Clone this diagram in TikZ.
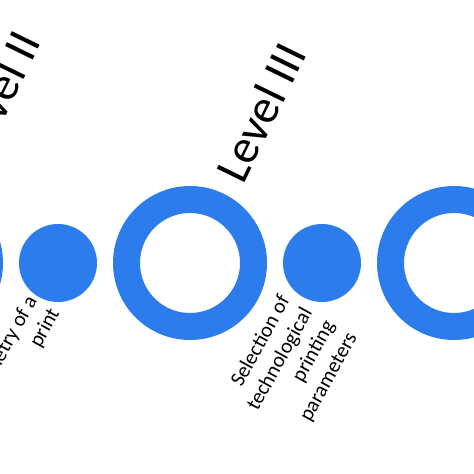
\documentclass[tikz,border=0pt]{standalone}
\usepackage{fontspec}
\setmainfont{Carlito}
\definecolor{cblue}{RGB}{45,124,235}
\begin{document}
\begin{tikzpicture}[x=1pt,y=1pt,
  ring/.style={circle,draw=cblue,line width=27pt,minimum size=127pt,inner sep=0pt},
  dot/.style={circle,fill=cblue,minimum size=78pt,inner sep=0pt},
  level/.style={rotate=64,anchor=base west,inner sep=0pt,font=\fontsize{48}{56}\selectfont},
  lbl/.style={rotate=61,anchor=east,align=right,inner sep=0pt,font=\fontsize{21}{25.6}\selectfont}]
\useasboundingbox (0,0) rectangle (474,474);
\clip (0,0) rectangle (474,474);
\node[ring] (r1) at (-74,211) {};
\node[dot]  (d1) at (58,211) {};
\node[ring] (r2) at (190,211) {};
\node[dot]  (d2) at (322,211) {};
\node[ring] (r3) at (454,211) {};
\node[level] (l2) at (-17,311) {Level II};
\node[level] (l3) at (243,288) {Level III};
\node[lbl] (t1) at (44,170) {Geometry of a\\print};
\node[lbl] (t2) at (319,158) {Selection of\\technological\\printing\\parameters};
\end{tikzpicture}
\end{document}
